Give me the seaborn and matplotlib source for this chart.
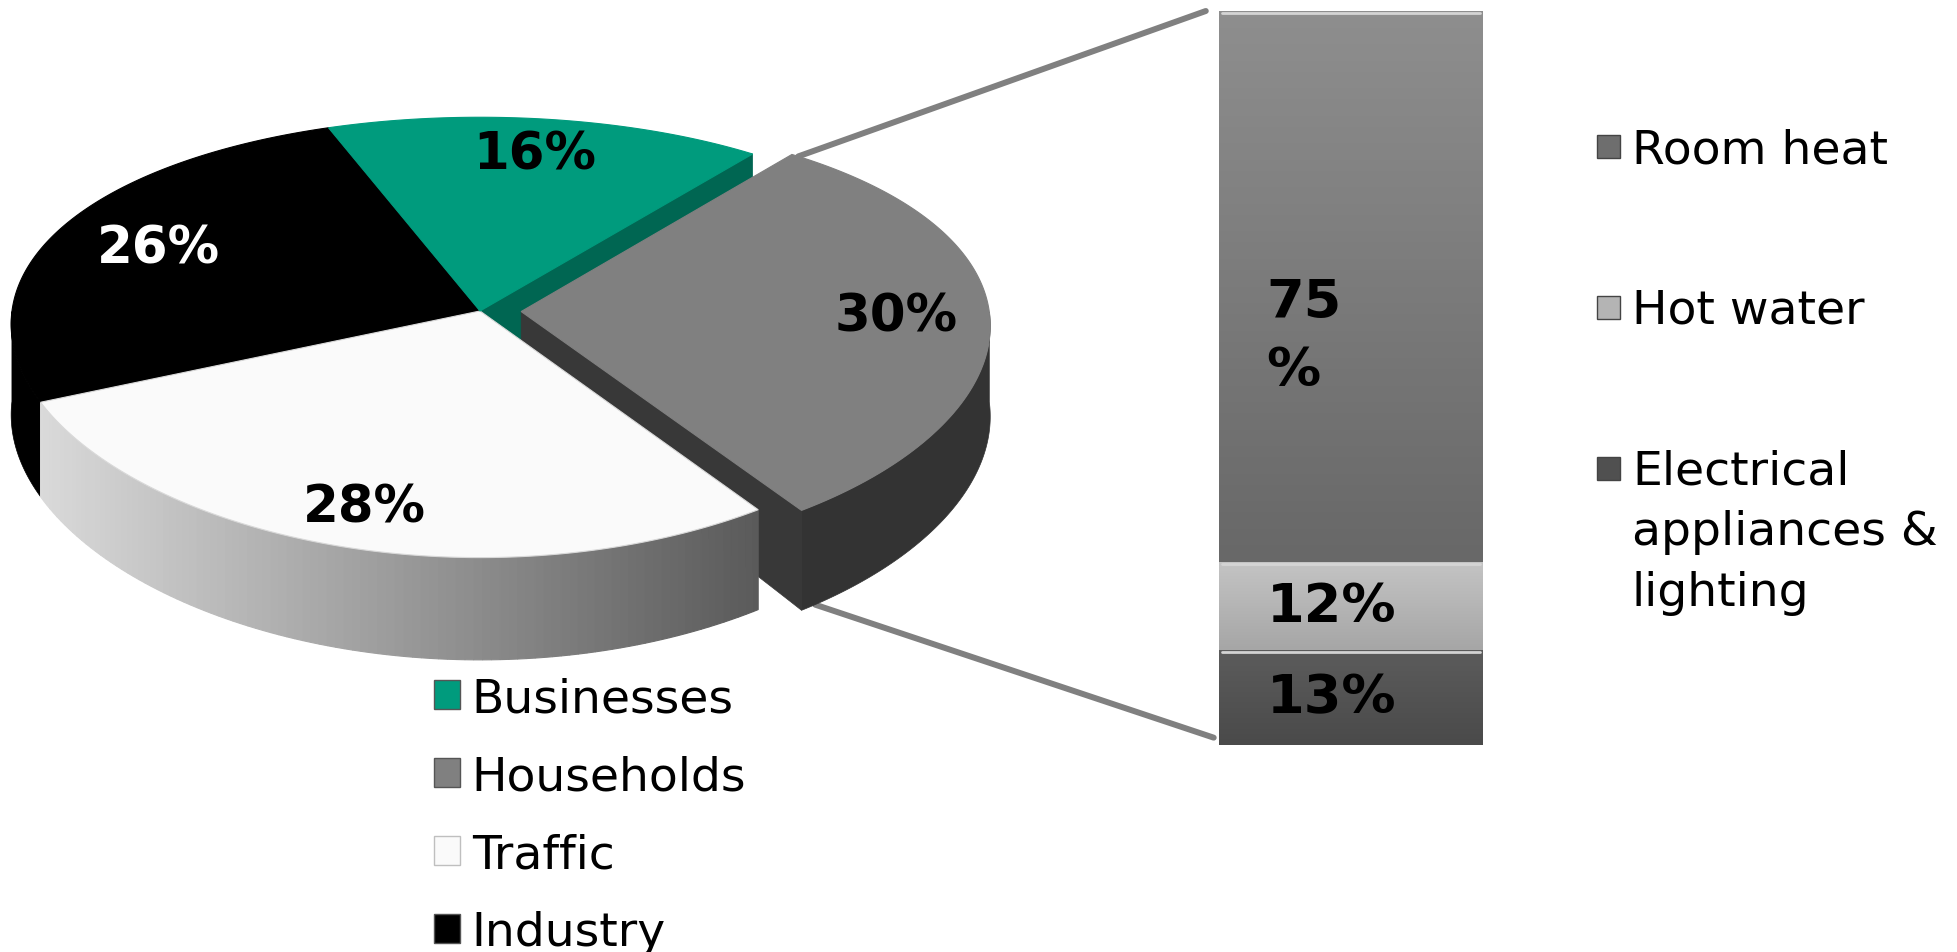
import numpy as np
import matplotlib
matplotlib.use('Agg')
import matplotlib.pyplot as plt
import seaborn as sns
from matplotlib.patches import Polygon, Rectangle, ConnectionPatch
from matplotlib.colors import to_rgb, LinearSegmentedColormap

# data
sectors = ['Businesses', 'Households', 'Traffic', 'Industry']
sector_share = [16, 30, 28, 26]
sector_colors = ['#009b7d', '#808080', '#fafafa', '#000000']
sector_label_colors = ['black', 'black', 'black', 'white']

uses = ['Room heat', 'Hot water', 'Electrical\nappliances &\nlighting']
use_share = [75, 12, 13]
use_labels = ['75\n%', '12%', '13%']

sns.set_theme(style='white')
plt.rcParams['font.family'] = ['DejaVu Sans']
plt.rcParams['text.color'] = 'black'

W, H = 1957, 953
fig = plt.figure(figsize=(W / 100, H / 100), dpi=100)
fig.patch.set_facecolor('white')

# pie axes in pixel units
ax = fig.add_axes([0, 0, 1, 1])
ax.set_xlim(0, W)
ax.set_ylim(H, 0)
ax.axis('off')

cx, cy = 480, 312
RX, RY, DEPTH = 468, 217, 90
PX, PY = 0.06, 0.12      # fake perspective
EXPLODE = 0.088
start = 110.0


def proj(X, Y, down=0.0):
    u = cx + X * RX / (1 + PX * Y)
    v = cy + (-Y * RY + down * DEPTH) / (1 + PY * Y)
    return u, v


def rim(s, t, down=0.0):
    return proj(s['ox'] + np.cos(t), s['oy'] + np.sin(t), down)


def lerp(c1, c2, f):
    a, b = np.array(to_rgb(c1)), np.array(to_rgb(c2))
    return tuple(a + (b - a) * f)


wall_colors = {'Households': '#333333', 'Industry': '#000000'}

slices = []
a = start
for name, share, col in zip(sectors, sector_share, sector_colors):
    a1 = a
    a2 = a - share * 3.6
    bis = np.radians((a1 + a2) / 2)
    ex = EXPLODE if name == 'Households' else 0
    slices.append(dict(name=name, share=share, col=col, a1=np.radians(a1), a2=np.radians(a2),
                       bis=bis, ox=ex * np.cos(bis), oy=ex * np.sin(bis)))
    a = a2
S = {s['name']: s for s in slices}


def cut_face(s, ang, color, z):
    r = np.linspace(0, 1, 30)
    X, Y = s['ox'] + r * np.cos(ang), s['oy'] + r * np.sin(ang)
    ut, vt = proj(X, Y)
    ub, vb = proj(X, Y, 1)
    poly = list(zip(ut, vt)) + list(zip(ub[::-1], vb[::-1]))
    ax.add_patch(Polygon(poly, closed=True, fc=color, ec=color, lw=0.5, zorder=z))


def wall(s, z, gradient=None):
    t = np.linspace(s['a2'], s['a1'], 400)
    t = t[np.sin(t) <= 1e-9]
    if len(t) < 2:
        return
    ut, vt = rim(s, t)
    ub, vb = rim(s, t, 1)
    if gradient is None:
        poly = list(zip(ut, vt)) + list(zip(ub[::-1], vb[::-1]))
        c = wall_colors[s['name']]
        ax.add_patch(Polygon(poly, closed=True, fc=c, ec=c, lw=0.5, zorder=z))
        return
    xmin, xmax = ut.min(), ut.max()
    step = 4
    for i in range(0, len(t) - 1, step):
        j = min(i + step + 1, len(t))
        f = (ut[i:j].mean() - xmin) / (xmax - xmin)
        c = lerp(gradient[0], gradient[1], np.clip(f, 0, 1))
        poly = list(zip(ut[i:j], vt[i:j])) + list(zip(ub[i:j][::-1], vb[i:j][::-1]))
        ax.add_patch(Polygon(poly, closed=True, fc=c, ec=c, lw=0.8, zorder=z))


def top(s, z):
    t = np.linspace(s['a1'], s['a2'], 300)
    ut, vt = rim(s, t)
    poly = [proj(s['ox'], s['oy'])] + list(zip(ut, vt))
    ec = '#d9d9d9' if s['name'] == 'Traffic' else s['col']
    ax.add_patch(Polygon(poly, closed=True, fc=s['col'], ec=ec, lw=0.8, zorder=z))


# back to front
cut_face(S['Businesses'], S['Businesses']['a2'], '#006652', 1)
cut_face(S['Households'], S['Households']['a2'], '#383838', 2)
wall(S['Households'], 3)
top(S['Households'], 4)
wall(S['Industry'], 5)
wall(S['Traffic'], 5, gradient=('#dadada', '#5a5a5a'))
top(S['Industry'], 6)
top(S['Traffic'], 6)
top(S['Businesses'], 6)

label_frac = {'Businesses': 0.8, 'Households': 0.8, 'Traffic': 0.85, 'Industry': 0.76}
for s, lc in zip(slices, sector_label_colors):
    f = label_frac[s['name']]
    lx, ly = proj(s['ox'] + f * np.cos(s['bis']), s['oy'] + f * np.sin(s['bis']))
    ax.text(lx, ly, f"{s['share']}%", color=lc, fontsize=37, fontweight='bold',
            ha='center', va='center', zorder=10)

# sector legend
handles = [Rectangle((0, 0), 1, 1, fc=c, ec=('#bfbfbf' if c == '#fafafa' else '#555555'), lw=1)
           for c in sector_colors]
fig.legend(handles, sectors, loc='upper left', bbox_to_anchor=(0.2218, 0.2895), frameon=False,
           fontsize=34, handlelength=0.55, handleheight=0.55, handletextpad=0.25,
           labelspacing=0.70, borderpad=0, borderaxespad=0)

# stacked bar
bx0, bx1, by0, by1 = 1219, 1483, 12, 746
axb = fig.add_axes([bx0 / W, 1 - by1 / H, (bx1 - bx0) / W, (by1 - by0) / H])
grads = [('#8e8e8e', '#686868'), ('#c4c4c4', '#a6a6a6'), ('#5c5c5c', '#4a4a4a')]
order = [2, 1, 0]  # bottom to top
bottom = 0
for i in order:
    bars = axb.bar(0, use_share[i], bottom=bottom, width=1.0, color=grads[i][1],
                   edgecolor='#7a7a7a', linewidth=1.5, zorder=2)
    patch = bars.patches[0]
    g = np.linspace(0, 1, 100).reshape(-1, 1)
    cmap = LinearSegmentedColormap.from_list('g', [grads[i][1], grads[i][0]])
    im = axb.imshow(g, extent=(-0.5, 0.5, bottom, bottom + use_share[i]), origin='lower',
                    cmap=cmap, aspect='auto', zorder=2.5)
    im.set_clip_path(patch)
    axb.plot([-0.49, 0.49], [bottom + use_share[i] - 0.3] * 2, color='#d4d4d4', lw=2, zorder=3)
    ty = bottom + use_share[i] * (0.41 if use_share[i] > 50 else 0.5)
    axb.text(-0.32, ty, use_labels[i], fontsize=39, fontweight='bold', ha='left',
             va='center', linespacing=1.38, zorder=4)
    bottom += use_share[i]
axb.set_xlim(-0.5, 0.5)
axb.set_ylim(0, 100)
axb.axis('off')

# connector lines
hs = S['Households']
p_top = rim(hs, hs['a1'] - np.radians(1))
p_bot = rim(hs, hs['a2'] + np.radians(2), 1)
for pa, pb in [(p_top, (-0.55, 100)), (p_bot, (-0.52, 1))]:
    con = ConnectionPatch(xyA=pa, coordsA=ax.transData, xyB=pb, coordsB=axb.transData,
                          color='#808080', lw=4.3, zorder=0)
    fig.add_artist(con)

# use legend
leg_cols = ['#6e6e6e', '#b4b4b4', '#505050']
for i, (u, c) in enumerate(zip(uses, leg_cols)):
    ry = 147 + i * 161
    ax.add_patch(Rectangle((1597, ry - 11), 23, 23, fc=c, ec='#444444', lw=1, zorder=5))
    ax.text(1632, ry - 19, u, fontsize=34, ha='left', va='top', linespacing=1.44, zorder=5)

fig.savefig('out.png', dpi=100, facecolor='white')
